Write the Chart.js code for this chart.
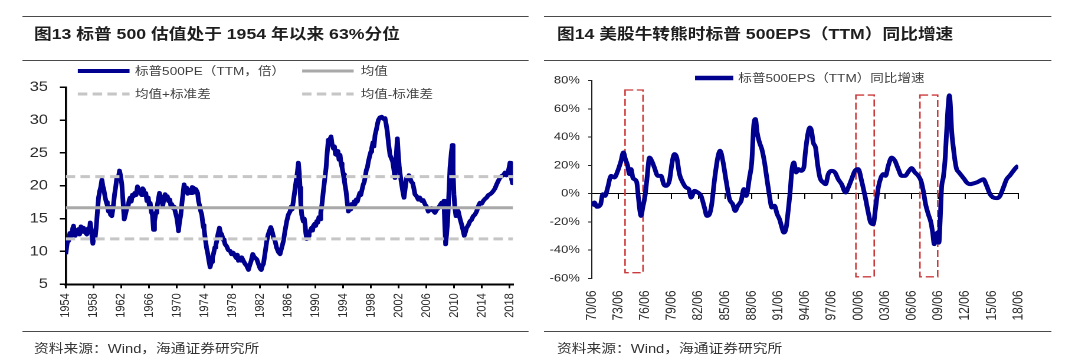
<!DOCTYPE html>
<html><head><meta charset="utf-8">
<script src="https://cdn.jsdelivr.net/npm/chart.js@4.4.1/dist/chart.umd.min.js"></script>
<style>
html,body{margin:0;padding:0;background:#fff;overflow:hidden;width:1080px;height:362px;}
#page{position:absolute;left:0;top:0;width:916px;height:362px;transform:scaleX(1.18);transform-origin:0 0;}
.rule{position:absolute;height:0;border-top:1.5px solid #4a4a4a;}
.title{position:absolute;font-family:"Liberation Sans","Noto Sans CJK SC",sans-serif;font-weight:bold;font-size:15px;line-height:18px;color:#1e1e1e;white-space:nowrap;}
.src{position:absolute;font-family:"Liberation Sans","Noto Sans CJK SC",sans-serif;font-size:12.5px;line-height:16px;color:#333;white-space:nowrap;}
.leg{position:absolute;font-family:"Liberation Sans","Noto Sans CJK SC",sans-serif;font-size:11.5px;line-height:14px;color:#404040;white-space:nowrap;}
canvas{position:absolute;top:62px;}
svg.samp{position:absolute;overflow:visible;}
</style></head>
<body>
<div id="page">
  <div class="rule" style="left:18.6px;top:15.5px;width:429px;"></div>
  <div class="rule" style="left:18.6px;top:60.3px;width:429px;"></div>
  <div class="rule" style="left:461px;top:15.5px;width:430px;"></div>
  <div class="rule" style="left:461px;top:60.3px;width:430px;"></div>
  <div class="rule" style="left:18.6px;top:330.5px;width:429px;border-top-width:1px;"></div>
  <div class="rule" style="left:461px;top:330.5px;width:430px;border-top-width:1px;"></div>
  <div class="title" style="left:28.8px;top:25.4px;">图13 标普 500 估值处于 1954 年以来 63%分位</div>
  <div class="title" style="left:472px;top:25.4px;">图14 美股牛转熊时标普 500EPS（TTM）同比增速</div>
  <div class="src" style="left:28.8px;top:340.5px;">资料来源：Wind，海通证券研究所</div>
  <div class="src" style="left:472px;top:340.5px;">资料来源：Wind，海通证券研究所</div>

  <canvas id="cL" width="458" height="268" style="left:0px;width:458px;height:268px;"></canvas>
  <canvas id="cR" width="458" height="268" style="left:458px;width:458px;height:268px;"></canvas>

  <svg class="samp" style="left:66.4px;top:70.7px;" width="44" height="1"><line x1="0" y1="0" x2="43.8" y2="0" stroke="#00008f" stroke-width="4"/></svg>
  <div class="leg" style="left:114.4px;top:63.7px;">标普500PE（TTM，倍）</div>
  <svg class="samp" style="left:255.7px;top:70.7px;" width="44" height="1"><line x1="0" y1="0" x2="43.7" y2="0" stroke="#a9a9a9" stroke-width="3"/></svg>
  <div class="leg" style="left:305.7px;top:63.7px;">均值</div>
  <svg class="samp" style="left:66.4px;top:94.3px;" width="44" height="1"><line x1="0" y1="0" x2="43.8" y2="0" stroke="#c6c6c6" stroke-width="3" stroke-dasharray="8 4.5"/></svg>
  <div class="leg" style="left:114.4px;top:87.3px;">均值+标准差</div>
  <svg class="samp" style="left:255.7px;top:94.3px;" width="44" height="1"><line x1="0" y1="0" x2="43.7" y2="0" stroke="#c6c6c6" stroke-width="3" stroke-dasharray="8 4.5"/></svg>
  <div class="leg" style="left:305.7px;top:87.3px;">均值-标准差</div>

  <svg class="samp" style="left:589px;top:78.3px;" width="33" height="1"><line x1="0" y1="0" x2="32.4" y2="0" stroke="#00008f" stroke-width="4.5"/></svg>
  <div class="leg" style="left:625.7px;top:71.3px;">标普500EPS（TTM）同比增速</div>
</div>
<script>
// ---------- Figure 13 data ----------
const peYears = [1954.00,1954.15,1954.30,1954.41,1954.60,1954.80,1955.00,1955.13,1955.25,1955.37,1955.60,1955.85,1956.00,1956.20,1956.40,1956.57,1956.80,1957.05,1957.25,1957.40,1957.53,1957.70,1957.91,1958.10,1958.25,1958.39,1958.55,1958.73,1958.90,1959.05,1959.21,1959.35,1959.50,1959.69,1959.85,1960.00,1960.17,1960.30,1960.45,1960.65,1960.85,1961.04,1961.20,1961.37,1961.55,1961.76,1961.90,1962.09,1962.25,1962.43,1962.60,1962.81,1963.00,1963.15,1963.29,1963.45,1963.60,1963.77,1963.95,1964.15,1964.35,1964.55,1964.74,1964.95,1965.10,1965.22,1965.40,1965.55,1965.70,1965.90,1966.05,1966.18,1966.35,1966.50,1966.66,1966.80,1967.00,1967.14,1967.30,1967.52,1967.70,1967.86,1968.00,1968.15,1968.34,1968.50,1968.65,1968.82,1969.00,1969.15,1969.30,1969.50,1969.65,1969.78,1970.00,1970.15,1970.26,1970.40,1970.59,1970.80,1971.07,1971.25,1971.46,1971.60,1971.80,1971.94,1972.10,1972.25,1972.42,1972.60,1972.75,1972.90,1973.02,1973.14,1973.30,1973.45,1973.62,1973.80,1973.95,1974.10,1974.30,1974.49,1974.65,1974.82,1975.00,1975.15,1975.30,1975.50,1975.65,1975.78,1975.95,1976.17,1976.30,1976.50,1976.70,1976.85,1976.98,1977.20,1977.45,1977.70,1977.90,1978.15,1978.42,1978.60,1978.75,1978.90,1979.10,1979.25,1979.38,1979.60,1979.87,1980.10,1980.35,1980.50,1980.75,1980.97,1981.15,1981.35,1981.55,1981.75,1982.03,1982.20,1982.35,1982.51,1982.75,1982.99,1983.20,1983.40,1983.57,1983.80,1984.00,1984.19,1984.40,1984.67,1984.91,1985.10,1985.25,1985.39,1985.60,1985.87,1986.10,1986.35,1986.50,1986.65,1986.83,1987.00,1987.22,1987.40,1987.55,1987.68,1987.79,1987.90,1988.03,1988.25,1988.40,1988.51,1988.62,1988.75,1988.95,1989.10,1989.23,1989.45,1989.60,1989.71,1989.90,1990.05,1990.19,1990.35,1990.50,1990.65,1990.77,1990.95,1991.15,1991.35,1991.54,1991.70,1991.87,1992.05,1992.26,1992.40,1992.59,1992.75,1992.90,1993.07,1993.25,1993.40,1993.56,1993.70,1993.85,1994.04,1994.20,1994.42,1994.60,1994.76,1994.95,1995.10,1995.24,1995.45,1995.60,1995.72,1995.90,1996.05,1996.20,1996.40,1996.55,1996.68,1996.90,1997.05,1997.16,1997.35,1997.50,1997.64,1997.85,1998.00,1998.12,1998.30,1998.45,1998.60,1998.80,1998.95,1999.08,1999.30,1999.56,1999.80,2000.04,2000.20,2000.38,2000.55,2000.76,2000.95,2001.14,2001.30,2001.48,2001.65,2001.82,2001.95,2002.11,2002.30,2002.44,2002.60,2002.78,2002.95,2003.16,2003.35,2003.50,2003.64,2003.85,2004.03,2004.20,2004.36,2004.60,2004.84,2005.05,2005.32,2005.55,2005.80,2006.05,2006.28,2006.50,2006.76,2007.00,2007.24,2007.50,2007.73,2007.95,2008.20,2008.40,2008.54,2008.66,2008.78,2008.92,2009.07,2009.25,2009.41,2009.60,2009.74,2009.86,2009.98,2010.12,2010.27,2010.45,2010.61,2010.85,2011.09,2011.30,2011.47,2011.65,2011.81,2012.05,2012.29,2012.50,2012.77,2013.00,2013.25,2013.50,2013.73,2014.00,2014.21,2014.45,2014.69,2014.95,2015.17,2015.40,2015.65,2015.90,2016.13,2016.40,2016.61,2016.86,2017.10,2017.34,2017.55,2017.70,2017.90,2018.06,2018.20,2018.30,2018.42,2018.50];
const peValues = [9.6,10.8,11.9,11.6,12.8,12.3,13.5,13.9,12.8,12.4,13.2,13.4,12.6,13.8,13.0,13.6,12.9,12.6,13.5,13.1,14.4,13.2,11.2,12.6,12.2,13.6,15.8,18.2,19.2,19.8,20.9,20.0,19.4,18.2,17.5,17.0,16.1,16.8,15.6,15.4,16.8,18.7,19.8,21.2,21.0,22.3,21.6,20.2,17.8,14.9,15.6,16.6,17.0,17.8,18.2,17.6,18.6,18.4,18.9,18.6,19.9,19.0,19.2,18.6,19.6,19.4,18.6,18.9,17.7,18.2,17.0,17.4,16.0,15.6,13.3,14.6,15.9,16.6,17.6,18.9,18.2,17.7,17.0,18.0,18.7,18.0,18.4,17.7,17.9,17.0,17.2,16.6,16.8,16.1,15.2,14.2,13.1,14.4,15.6,17.8,20.2,19.4,19.7,18.8,19.0,19.4,18.9,19.8,19.7,19.0,19.5,19.2,18.9,17.7,17.0,16.2,15.6,14.0,13.4,12.1,10.6,9.6,8.6,7.6,8.4,9.0,9.6,10.6,11.0,11.6,12.6,13.6,12.9,12.6,11.8,11.6,11.1,10.8,10.2,10.1,9.6,9.8,9.3,9.0,9.5,8.6,8.9,8.6,9.1,8.6,8.1,7.8,7.2,7.8,8.6,9.6,9.2,9.0,8.8,8.2,7.4,7.2,7.8,8.1,9.8,11.6,12.6,13.2,13.7,12.9,12.0,11.6,10.6,9.9,9.6,10.4,11.0,11.6,13.0,14.6,15.6,16.1,16.8,16.4,17.7,19.0,20.7,22.0,23.5,22.0,19.7,17.2,15.6,14.6,15.0,14.1,12.8,11.9,12.4,12.8,13.1,13.6,13.2,13.9,14.2,13.9,14.6,14.4,15.2,14.9,15.9,17.2,19.2,21.0,22.7,25.0,27.0,27.0,27.5,26.4,25.7,26.0,24.8,24.7,25.3,24.0,24.7,23.4,22.8,21.7,20.6,19.2,17.4,16.1,16.8,16.4,17.2,16.8,17.6,17.2,17.9,17.6,18.2,18.9,18.6,19.2,20.2,20.6,21.2,22.4,22.8,23.7,24.6,25.2,25.7,26.6,26.0,27.7,28.6,29.4,30.0,30.4,30.5,30.2,30.3,29.4,28.2,26.4,24.7,24.2,23.7,22.6,21.2,24.4,27.2,25.0,22.7,21.2,20.2,19.2,18.2,19.6,21.2,21.0,21.6,21.2,20.6,20.4,19.6,18.7,18.4,17.9,18.2,17.7,17.8,17.2,16.8,16.1,16.4,16.6,16.2,15.9,16.4,16.6,17.0,17.4,17.2,17.7,14.2,11.1,12.6,14.6,18.8,22.7,25.0,26.2,22.2,18.7,16.6,15.4,16.4,16.1,15.0,14.1,13.2,12.4,13.0,13.6,14.0,14.6,14.8,15.4,15.6,16.1,16.9,17.4,17.3,17.7,18.0,18.2,18.6,18.7,18.9,19.2,19.6,20.2,20.8,21.2,21.5,21.6,22.0,21.6,21.8,22.6,23.5,22.2,21.0,20.4,20.9];
const peMean = 16.65;
const peUpper = 21.39;
const peLower = 11.91;
const peRange = [1954, 2018.5];
const peTickYears = [1954,1958,1962,1966,1970,1974,1978,1982,1986,1990,1994,1998,2002,2006,2010,2014,2018];
const peTickLabels = ["1954","1958","1962","1966","1970","1974","1978","1982","1986","1990","1994","1998","2002","2006","2010","2014","2018"];

// ---------- Figure 14 data ----------
const epsYears = [1970.50,1970.80,1971.10,1971.50,1971.74,1972.00,1972.30,1972.68,1973.05,1973.43,1973.80,1974.06,1974.29,1974.55,1974.74,1974.93,1975.12,1975.30,1975.57,1975.75,1976.05,1976.24,1976.50,1976.73,1977.00,1977.25,1977.55,1977.93,1978.30,1978.60,1978.87,1979.24,1979.54,1979.80,1980.07,1980.37,1980.74,1981.12,1981.42,1981.68,1982.06,1982.43,1982.80,1983.18,1983.45,1983.75,1984.00,1984.30,1984.68,1984.94,1985.25,1985.62,1986.00,1986.37,1986.64,1986.93,1987.31,1987.61,1987.87,1988.25,1988.50,1988.74,1988.92,1989.11,1989.37,1989.64,1989.94,1990.24,1990.50,1990.76,1991.06,1991.36,1991.63,1991.89,1992.11,1992.38,1992.56,1992.83,1993.01,1993.24,1993.50,1993.76,1994.06,1994.36,1994.55,1994.78,1995.04,1995.23,1995.42,1995.68,1995.91,1996.17,1996.54,1996.81,1997.11,1997.48,1997.86,1998.23,1998.61,1999.06,1999.36,1999.73,2000.11,2000.48,2000.86,2001.24,2001.61,2001.87,2002.17,2002.44,2002.74,2003.04,2003.30,2003.56,2003.86,2004.24,2004.61,2004.99,2005.36,2005.74,2006.19,2006.49,2006.86,2007.24,2007.54,2007.80,2008.06,2008.36,2008.66,2008.85,2009.04,2009.23,2009.41,2009.56,2009.68,2009.86,2010.05,2010.24,2010.43,2010.61,2010.73,2010.84,2010.99,2011.18,2011.37,2011.55,2011.82,2012.12,2012.42,2012.68,2013.05,2013.43,2013.80,2014.18,2014.55,2014.93,2015.31,2015.68,2016.06,2016.43,2016.81,2017.18,2017.56,2017.93,2018.31,2018.50];
const epsValues = [-8.6,-6.3,-9.3,-7.5,-0.4,-1.6,4.3,12.6,11.4,16.1,23.2,29.1,24.4,19.7,13.8,17.3,11.4,10.2,7.9,-2.7,-15.7,-9.8,-1.6,11.4,25.5,23.2,18.5,12.6,12.6,6.7,5.5,9.1,22.0,27.9,25.5,13.8,7.9,4.3,3.2,-2.7,2.0,0.8,-1.6,-9.8,-15.7,-14.5,-7.5,9.1,25.5,30.3,23.2,9.1,-3.9,-7.5,-12.2,-8.6,-5.1,3.2,-1.6,11.4,22.0,49.1,52.7,43.2,36.2,31.4,22.0,9.1,-1.6,-9.8,-8.6,-14.5,-18.1,-23.9,-27.5,-23.9,-14.5,2.0,16.1,22.0,15.0,17.3,16.1,18.5,30.0,40.9,46.8,44.4,36.2,32.6,20.8,11.4,7.9,6.7,13.8,16.1,15.0,10.2,6.7,0.8,4.3,10.2,16.1,17.3,9.1,-1.6,-13.3,-20.4,-21.6,-9.8,4.3,11.4,13.8,12.6,19.7,25.5,23.2,17.3,12.6,12.6,16.1,18.0,15.0,12.6,9.1,2.0,-7.5,-14.5,-20.4,-27.5,-35.7,-29.8,-27.5,-34.6,-21.6,4.3,11.4,23.2,44.4,63.3,69.5,63.3,44.4,32.6,23.2,17.3,15.0,12.6,10.2,7.9,6.7,7.2,7.9,9.1,10.2,5.5,-0.4,-2.7,-3.2,-1.6,4.3,10.2,13.0,16.1,18.9,19.7];
const epsRange = [1970.5, 2018.5];
const epsTickYears = [1970.5,1973.5,1976.5,1979.5,1982.5,1985.5,1988.5,1991.5,1994.5,1997.5,2000.5,2003.5,2006.5,2009.5,2012.5,2015.5,2018.5];
const epsTickLabels = ["70/06","73/06","76/06","79/06","82/06","85/06","88/06","91/06","94/06","97/06","00/06","03/06","06/06","09/06","12/06","15/06","18/06"];
// bull-to-bear windows (red dashed boxes)
const boxStart = [1974.25, 2000.22, 2007.42];
const boxEnd = [1976.27, 2002.28, 2009.42];
const boxTop = [73.3, 69.7, 69.7];
const boxBottom = [-55.9, -58.8, -58.8];

const FONT = '"Liberation Sans","Noto Sans CJK SC",sans-serif';
Chart.defaults.font.family = FONT;
Chart.defaults.color = '#2a2a2a';

function pairs(xs, ys) { return xs.map((x, i) => ({x: x, y: ys[i]})); }
function flat(v, r) { return [{x: r[0], y: v}, {x: r[1], y: v}]; }

new Chart(document.getElementById('cL'), {
  type: 'line',
  data: { datasets: [
    {label: '均值+标准差', data: flat(peUpper, peRange), borderColor: '#c6c6c6', borderWidth: 3, borderDash: [8, 4.5], pointRadius: 0},
    {label: '均值-标准差', data: flat(peLower, peRange), borderColor: '#c6c6c6', borderWidth: 3, borderDash: [8, 4.5], pointRadius: 0},
    {label: '均值', data: flat(peMean, peRange), borderColor: '#a9a9a9', borderWidth: 3, pointRadius: 0},
    {label: '标普500PE（TTM，倍）', data: pairs(peYears, peValues), borderColor: '#00008f', borderWidth: 4, pointRadius: 0, tension: 0, borderJoinStyle: 'round'}
  ]},
  options: {
    responsive: false, animation: false, devicePixelRatio: 2,
    layout: {padding: {left: 0, right: 23.25, top: 25.3, bottom: 0}},
    plugins: {legend: {display: false}, tooltip: {enabled: false}},
    scales: {
      x: {
        type: 'linear', min: peRange[0], max: peRange[1],
        afterBuildTicks: s => { s.ticks = peTickYears.map(v => ({value: v})); },
        afterFit: s => { s.height = 45.7; },
        grid: {drawOnChartArea: false, drawTicks: true, tickLength: 4, color: '#000', lineWidth: 1.5},
        border: {display: true, color: '#000', width: 2},
        ticks: {autoSkip: false, maxRotation: 90, minRotation: 90, padding: 5, color: '#2a2a2a', font: {size: 11}, callback: (v, i) => peTickLabels[i]}
      },
      y: {
        min: 5, max: 35,
        afterFit: s => { s.width = 55.7; },
        grid: {drawOnChartArea: false, drawTicks: true, tickLength: 5, color: '#000', lineWidth: 1.5},
        border: {display: true, color: '#000', width: 1.8},
        ticks: {stepSize: 5, padding: 10, color: '#2a2a2a', font: {size: 14}}
      }
    }
  }
});

const boxPlugin = {
  id: 'bearBoxes',
  beforeDatasetsDraw(chart) {
    const ctx = chart.ctx, x = chart.scales.x, y = chart.scales.y;
    ctx.save();
    ctx.strokeStyle = '#cc3b3b';
    ctx.lineWidth = 1.3;
    ctx.setLineDash([7, 3]);
    for (let i = 0; i < boxStart.length; i++) {
      const x1 = x.getPixelForValue(boxStart[i]), x2 = x.getPixelForValue(boxEnd[i]);
      const y1 = y.getPixelForValue(boxTop[i]), y2 = y.getPixelForValue(boxBottom[i]);
      ctx.strokeRect(x1, y1, x2 - x1, y2 - y1);
    }
    ctx.restore();
  }
};

new Chart(document.getElementById('cR'), {
  type: 'line',
  data: { datasets: [
    {label: '标普500EPS（TTM）同比增速', data: pairs(epsYears, epsValues), borderColor: '#00008f', borderWidth: 4, pointRadius: 0, cubicInterpolationMode: 'monotone', borderJoinStyle: 'round'}
  ]},
  options: {
    responsive: false, animation: false, devicePixelRatio: 2,
    layout: {padding: {left: 0, right: 52.95, top: 18.5, bottom: 0}},
    plugins: {legend: {display: false}, tooltip: {enabled: false}},
    scales: {
      x: {
        type: 'linear', min: epsRange[0], max: epsRange[1],
        afterBuildTicks: s => { s.ticks = epsTickYears.map(v => ({value: v})); },
        afterFit: s => { s.height = 51.5; },
        grid: {display: false},
        border: {display: false},
        ticks: {autoSkip: false, maxRotation: 90, minRotation: 90, padding: 4, color: '#2a2a2a', font: {size: 12}, callback: (v, i) => epsTickLabels[i]}
      },
      x0: {
        type: 'linear', axis: 'x', position: {y: 0}, min: epsRange[0], max: epsRange[1],
        afterBuildTicks: s => { s.ticks = epsTickYears.map(v => ({value: v})); },
        grid: {drawOnChartArea: false, drawTicks: true, tickLength: 5, color: '#000', lineWidth: 1},
        border: {display: true, color: '#000', width: 1},
        ticks: {display: false}
      },
      y: {
        min: -60, max: 80,
        afterFit: s => { s.width = 43.44; },
        grid: {drawOnChartArea: false, drawTicks: true, tickLength: 3, color: '#222', lineWidth: 1},
        border: {display: true, color: '#222', width: 1},
        ticks: {stepSize: 20, padding: 7, color: '#2a2a2a', font: {size: 11}, callback: v => v + '%'}
      }
    }
  },
  plugins: [boxPlugin]
});
</script>
</body></html>
